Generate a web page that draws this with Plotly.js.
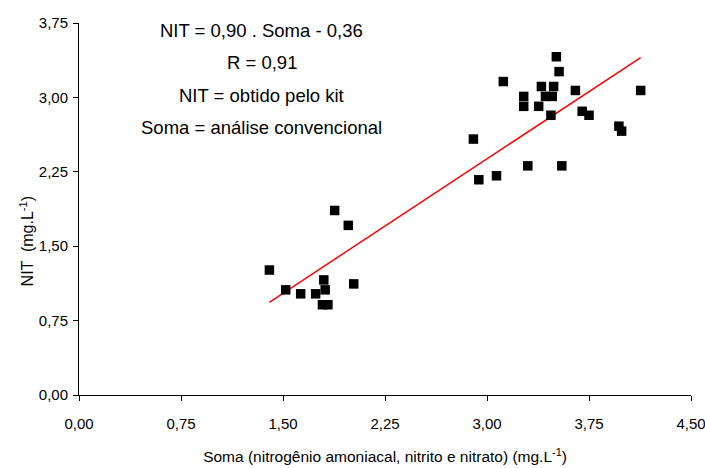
<!DOCTYPE html>
<html><head><meta charset="utf-8">
<script src="https://cdn.plot.ly/plotly-3.0.1.min.js"></script>
<style>html,body{margin:0;padding:0;background:#fff}#c{width:705px;height:468px}</style>
</head><body><div id="c"></div>
<script>
const soma = [1.40,1.52,1.63,1.74,1.80,1.81,1.79,1.83,2.02,1.88,1.98,
  2.90,2.94,3.07,3.12,3.27,3.27,3.30,3.38,3.40,3.49,3.43,3.48,3.47,3.51,3.53,3.55,3.65,3.70,3.75,3.97,3.99,4.13];
const nit = [1.26,1.06,1.02,1.02,1.16,1.06,0.91,0.91,1.12,1.86,1.71,
  2.58,2.17,2.21,3.16,3.01,2.91,2.31,2.91,3.11,3.11,3.01,3.01,2.82,3.41,3.26,2.31,3.07,2.86,2.82,2.71,2.66,3.07];
const xTicks = [0,0.75,1.5,2.25,3,3.75,4.5];
const xTickText = ["0,00","0,75","1,50","2,25","3,00","3,75","4,50"];
const yTicks = [0,0.75,1.5,2.25,3,3.75];
const yTickText = ["0,00","0,75","1,50","2,25","3,00","3,75"];
const notes = ["NIT = 0,90 . Soma - 0,36","R = 0,91","NIT = obtido pelo kit","Soma = análise convencional"];
const xTitle = 'Soma (nitrogênio amoniacal, nitrito e nitrato) (mg.L<sup>-1</sup>)';
const yTitle = 'NIT  (mg.L<sup>-1</sup>)';

// least squares fit
const n = soma.length;
const mx = soma.reduce((a,b)=>a+b,0)/n, my = nit.reduce((a,b)=>a+b,0)/n;
let sxy=0, sxx=0;
for (let i=0;i<n;i++){sxy+=(soma[i]-mx)*(nit[i]-my); sxx+=(soma[i]-mx)**2;}
const slope = sxy/sxx, icpt = my - slope*mx;
const xmin = Math.min(...soma), xmax = Math.max(...soma);
const lineX = [xmin, xmax], lineY = lineX.map(v=>slope*v+icpt);

const font = "'Liberation Sans',Arial,sans-serif";
const noteY = [0.981,0.893,0.804,0.718];
const annotations = notes.map((t,i)=>({text:t, xref:'paper', yref:'paper', x:0.299, y:noteY[i],
  xanchor:'center', yanchor:'middle', showarrow:false, font:{family:font, size:18.5, color:'#000'}}));
annotations.push({text:yTitle, xref:'paper', yref:'paper', x:-0.085, y:0.4155, textangle:-90,
  xanchor:'center', yanchor:'middle', showarrow:false, font:{family:font, size:16, color:'#000'}});

Plotly.newPlot('c', [
  {x: lineX, y: lineY, mode:'lines', line:{color:'#ff0000', width:1.5}, hoverinfo:'skip'},
  {x: soma, y: nit, mode:'markers', marker:{symbol:'square', size:9.5, color:'#000'}}
], {
  width:705, height:468, showlegend:false,
  paper_bgcolor:'#fff', plot_bgcolor:'#fff',
  margin:{l:79, r:14, t:23, b:73},
  font:{family:font, color:'#000', size:15},
  xaxis:{range:[0,4.5], tickvals:xTicks, ticktext:xTickText, showgrid:false, zeroline:false,
    showline:true, linecolor:'#000', linewidth:1, ticks:'outside', ticklen:5, tickcolor:'#000',
    ticklabelstandoff:10, ticklabeloverflow:'allow', tickfont:{size:15},
    title:{text:xTitle, font:{size:15.5}, standoff:20}},
  yaxis:{range:[0,3.75], tickvals:yTicks, ticktext:yTickText, showgrid:false, zeroline:false,
    showline:true, linecolor:'#000', linewidth:1, ticks:'outside', ticklen:5, tickcolor:'#000',
    ticklabelstandoff:2, ticklabeloverflow:'allow', tickfont:{size:15}},
  annotations: annotations
}, {displayModeBar:false, staticPlot:true});
</script></body></html>
